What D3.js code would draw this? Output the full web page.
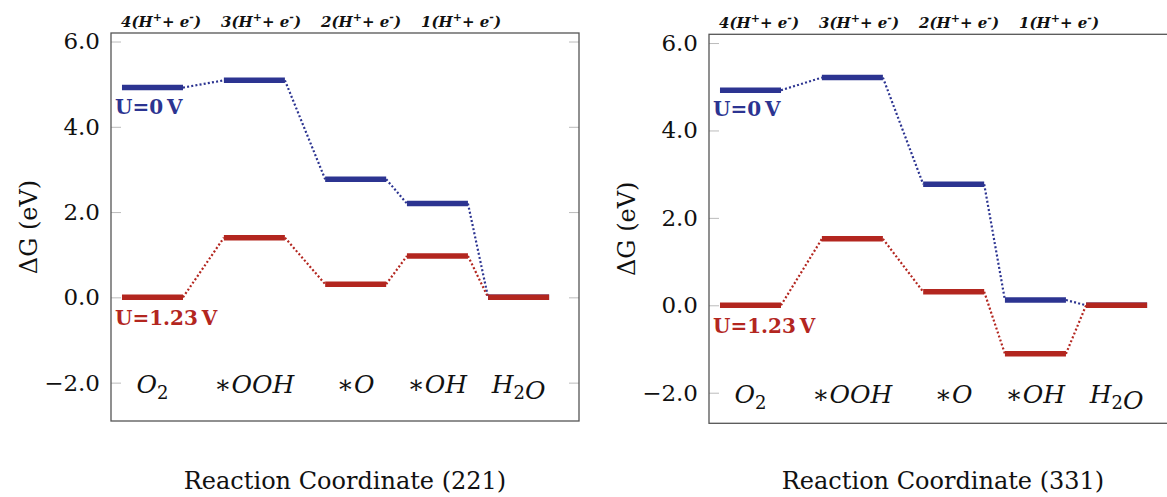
<!DOCTYPE html>
<html>
<head>
<meta charset="utf-8">
<script src="https://cdn.jsdelivr.net/npm/d3@7"></script>
<style>
  body { margin: 0; background: #fff; }
  svg { display: block; }
  svg text { font-family: 'DejaVu Serif', serif; }
</style>
</head>
<body>
<div id="chart"></div>
<script>
// reaction steps and their place on the reaction coordinate (bar start, bar = 1 unit)
const stepLabels = ['O_2', '∗OOH', '∗O', '∗OH', 'H_2O'];
const stepPos = [0, 1.67, 3.33, 4.67, 6];
const protonCounts = [4, 3, 2, 1];
const yTicks = [-2, 0, 2, 4, 6];

// free energies (eV)
const g221U0 = [4.92, 5.09, 2.77, 2.20, 0];
const g221U123 = [0, 1.40, 0.31, 0.97, 0];
const g331U0 = [4.92, 5.21, 2.77, 0.12, 0];
const g331U123 = [0, 1.52, 0.31, -1.11, 0];

const blue = '#2c3491';
const red = '#b3261f';

const width = 1167, height = 497;

const svg = d3.select('#chart')
    .append('svg')
    .attr('width', width)
    .attr('height', height);

svg.append('rect')
    .attr('width', width)
    .attr('height', height)
    .attr('fill', '#fff');

function drawPanel(cfg) {
    const frameW = 468;
    const x = d3.scaleLinear()
        .domain([-0.18, 7.49])
        .range([cfg.left, cfg.left + frameW]);
    const y = d3.scaleLinear()
        .domain(cfg.yDomain)
        .range([cfg.bottom, cfg.top]);

    const g = svg.append('g');

    // ticks on both sides, pointing inward
    g.append('g')
        .attr('transform', `translate(${cfg.left},0)`)
        .call(d3.axisLeft(y)
            .tickValues(yTicks)
            .tickSizeInner(-10)
            .tickSizeOuter(0)
            .tickPadding(11)
            .tickFormat(d3.format('.1f')))
        .call(a => a.attr('font-family', null).attr('font-size', null))
        .call(a => a.select('.domain').remove())
        .call(a => a.selectAll('line').attr('stroke', '#bbb'))
        .call(a => a.selectAll('text')
            .style('font-size', '23px')
            .attr('fill', '#111'));

    g.append('g')
        .attr('transform', `translate(${cfg.left + frameW},0)`)
        .call(d3.axisRight(y)
            .tickValues(yTicks)
            .tickSizeInner(-10)
            .tickSizeOuter(0)
            .tickFormat(''))
        .call(a => a.select('.domain').remove())
        .call(a => a.selectAll('line').attr('stroke', '#bbb'));

    g.append('rect')
        .attr('x', cfg.left)
        .attr('y', cfg.top)
        .attr('width', frameW)
        .attr('height', cfg.bottom - cfg.top)
        .attr('fill', 'none')
        .attr('stroke', '#555')
        .attr('stroke-width', 1.3);

    // energy levels
    const series = [
        { values: cfg.u0, color: blue },
        { values: cfg.u123, color: red }
    ];
    series.forEach(s => {
        const conn = d3.range(s.values.length - 1);
        g.append('g').selectAll('line')
            .data(conn)
            .join('line')
            .attr('x1', i => x(stepPos[i] + 1))
            .attr('y1', i => y(s.values[i]))
            .attr('x2', i => x(stepPos[i + 1]))
            .attr('y2', i => y(s.values[i + 1]))
            .attr('stroke', s.color)
            .attr('stroke-width', 2.2)
            .attr('stroke-dasharray', '2,2.2');
        g.append('g').selectAll('line')
            .data(s.values)
            .join('line')
            .attr('x1', (d, i) => x(stepPos[i]))
            .attr('x2', (d, i) => x(stepPos[i] + 1))
            .attr('y1', d => y(d))
            .attr('y2', d => y(d))
            .attr('stroke', s.color)
            .attr('stroke-width', 5.5);
    });

    // potential labels
    g.append('text')
        .attr('x', x(stepPos[0]) - 7)
        .attr('y', y(cfg.u0[0]) + 26)
        .style('font-weight', 'bold')
        .style('font-size', '20px')
        .attr('fill', blue)
        .text('U=0\u2009V');
    g.append('text')
        .attr('x', x(stepPos[0]) - 7)
        .attr('y', y(cfg.u123[0]) + 28)
        .style('font-weight', 'bold')
        .style('font-size', '20px')
        .attr('fill', red)
        .text('U=1.23\u2009V');

    // step names along the bottom
    const names = g.append('g').selectAll('text')
        .data(stepLabels)
        .join('text')
        .attr('x', (d, i) => x(stepPos[i] + 0.5))
        .attr('y', y(-2) + 10)
        .attr('text-anchor', 'middle')
        .style('font-style', 'italic')
        .style('font-size', '25px')
        .attr('fill', '#111');
    names.each(function(d) {
        const t = d3.select(this);
        d.split(/(_\d)/).filter(p => p).forEach(p => {
            if (p.startsWith('_')) {
                t.append('tspan').style('font-size', '18px').style('font-style', 'normal')
                    .attr('dy', 6).text(p.slice(1));
                t.append('tspan').attr('dy', -6).text('');
            } else if (p.startsWith('∗')) {
                t.append('tspan').style('font-style', 'normal').text('∗');
                t.append('tspan').text(p.slice(1));
            } else {
                t.append('tspan').text(p);
            }
        });
    });

    // proton-electron pairs along the top
    const tops = g.append('g').selectAll('text')
        .data(protonCounts)
        .join('text')
        .attr('x', (d, i) => cfg.left + 50 + i * 100)
        .attr('y', cfg.top - 6)
        .attr('text-anchor', 'middle')
        .style('font-weight', 'bold')
        .style('font-style', 'italic')
        .style('font-size', '15px')
        .attr('fill', '#111');
    tops.each(function(d) {
        const t = d3.select(this);
        t.append('tspan').text(`${d}(H`);
        t.append('tspan').attr('dy', -6).style('font-size', '11px').text('+');
        t.append('tspan').attr('dy', 6).text('+ e');
        t.append('tspan').attr('dy', -6).style('font-size', '11px').text('-');
        t.append('tspan').attr('dy', 6).text(')');
    });

    // axis titles
    g.append('text')
        .attr('transform', `translate(${cfg.left - 74},${(cfg.top + cfg.bottom) / 2}) rotate(-90)`)
        .attr('text-anchor', 'middle')
        .style('font-size', '24px')
        .attr('fill', '#111')
        .text('ΔG (eV)');

    g.append('text')
        .attr('x', cfg.left + frameW / 2)
        .attr('y', 489)
        .attr('text-anchor', 'middle')
        .style('font-size', '24px')
        .attr('fill', '#111')
        .text(cfg.title);
}

drawPanel({
    left: 111, top: 33, bottom: 421, yDomain: [-2.9, 6.2],
    u0: g221U0, u123: g221U123, title: 'Reaction Coordinate (221)'
});
drawPanel({
    left: 709, top: 34.3, bottom: 423.3, yDomain: [-2.7, 6.2],
    u0: g331U0, u123: g331U123, title: 'Reaction Coordinate (331)'
});
</script>
</body>
</html>
